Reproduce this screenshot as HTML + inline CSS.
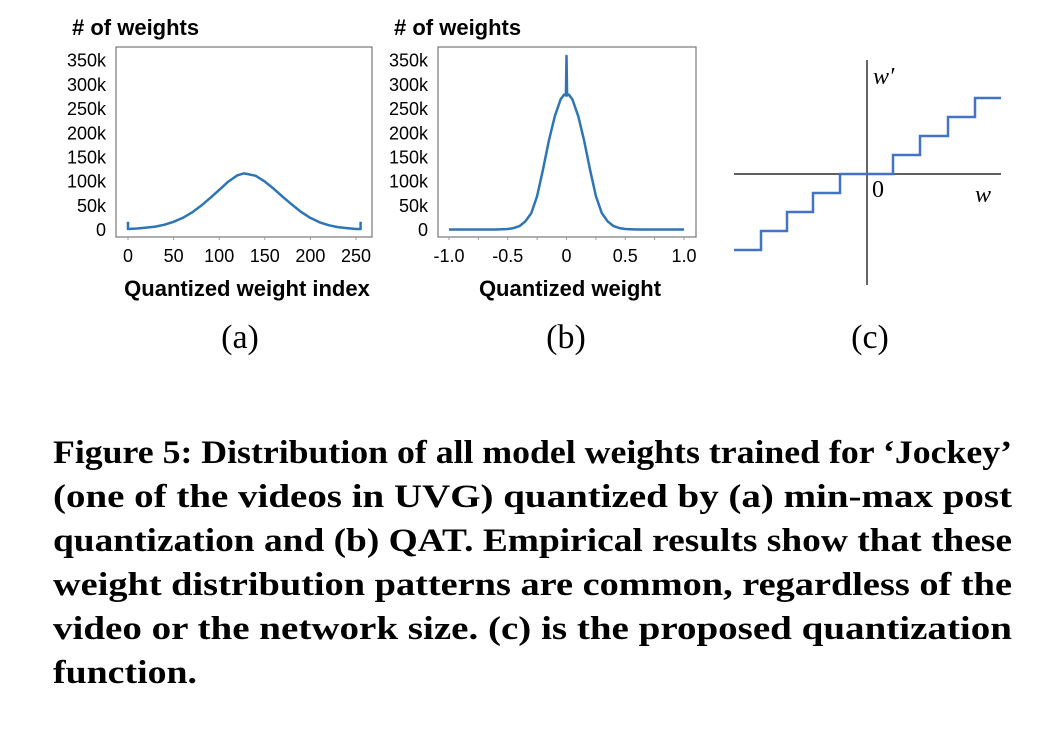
<!DOCTYPE html>
<html><head><meta charset="utf-8"><style>
html,body{margin:0;padding:0;background:#fff;}
svg{display:block;}
.tk{font-family:"Liberation Sans",Arial,sans-serif;font-size:18px;fill:#000;}
.ttl{font-family:"Liberation Sans",Arial,sans-serif;font-size:22px;font-weight:bold;fill:#000;}
.cap{font-family:"Liberation Serif","DejaVu Serif",serif;font-size:33px;font-weight:bold;fill:#000;}
.sub{font-family:"Liberation Serif","DejaVu Serif",serif;font-size:34px;fill:#000;}
</style></head><body>
<svg id="fig" width="1063" height="748" viewBox="0 0 1063 748" xmlns="http://www.w3.org/2000/svg">
<g id="chartA"></g>
<g id="chartB"></g>
<g id="chartC"></g>
<text class="sub" x="240" y="348" text-anchor="middle">(a)</text>
<text class="sub" x="566" y="348" text-anchor="middle">(b)</text>
<text class="sub" x="870" y="348" text-anchor="middle">(c)</text>
<g>
<text class="cap" x="53" y="463" textLength="959" lengthAdjust="spacingAndGlyphs">Figure 5: Distribution of all model weights trained for ‘Jockey’</text>
<text class="cap" x="53" y="507" textLength="959" lengthAdjust="spacingAndGlyphs">(one of the videos in UVG) quantized by (a) min-max post</text>
<text class="cap" x="53" y="551" textLength="959" lengthAdjust="spacingAndGlyphs">quantization and (b) QAT. Empirical results show that these</text>
<text class="cap" x="53" y="595" textLength="959" lengthAdjust="spacingAndGlyphs">weight distribution patterns are common, regardless of the</text>
<text class="cap" x="53" y="639" textLength="959" lengthAdjust="spacingAndGlyphs">video or the network size. (c) is the proposed quantization</text>
<text class="cap" x="53" y="683" textLength="144" lengthAdjust="spacingAndGlyphs">function.</text>
</g>
</svg>
<script>
const yTicks=[0,50,100,150,200,250,300,350];
const yTickLabels=["0","50k","100k","150k","200k","250k","300k","350k"];
const aX=[0,0,10,20,30,40,50,60,70,80,90,100,110,120,127,130,140,150,160,170,180,190,200,210,220,230,240,250,255,255];
const aY=[17,2,3,5,7,11,17,25,36,50,66,83,100,113,117,116,112,100,85,68,52,37,25,16,10,6,4,2,2,17];
const aXTicks=[0,50,100,150,200,250];
const bX=[-1,-0.6,-0.5,-0.45,-0.4,-0.35,-0.3,-0.25,-0.2,-0.15,-0.1,-0.05,-0.02,-0.005,0,0.005,0.02,0.05,0.1,0.15,0.2,0.25,0.3,0.35,0.4,0.45,0.5,0.6,1];
const bY=[1,1,2,4,8,18,35,70,125,185,235,270,280,278,360,278,280,270,235,185,125,70,35,18,8,4,2,1,1];
const bXTicks=[-1,-0.5,0,0.5,1];
const bXTickLabels=["-1.0","-0.5","0","0.5","1.0"];
const stepX=[734,761,787,813,840,893,920,948,975,1001];
const stepLvl=[-4,-3,-2,-1,0,1,2,3,4];
const NS="http://www.w3.org/2000/svg";
function mk(p,t,a){const e=document.createElementNS(NS,t);for(const k in a)e.setAttribute(k,a[k]);p.appendChild(e);return e;}
function chart(g,box,xmin,xmax,x0px,x1px,xs,ys,xt,xtl,minor,xtitle){
  const yS=v=>230-v*(230-60.7)/350;
  const xS=v=>x0px+(v-xmin)*(x1px-x0px)/(xmax-xmin);
  const r=mk(g,'rect',{x:box[0],y:47,width:box[1]-box[0],height:190,fill:'none',stroke:'#777','stroke-width':1.2});
  
  
  minor.forEach(v=>{const l=mk(g,'line',{x1:xS(v),x2:xS(v),y1:237,y2:240,stroke:'#999'});
    
    });
  yTicks.forEach((v,i)=>{const t=mk(g,'text',{x:box[0]-10,y:yS(v)+6,'text-anchor':'end',class:'tk'});t.textContent=yTickLabels[i];
    
    });
  xt.forEach((v,i)=>{const t=mk(g,'text',{x:xS(v),y:262,'text-anchor':'middle',class:'tk'});t.textContent=xtl[i];
    
    });
  const tt=mk(g,'text',{x:box[0]-44,y:35,class:'ttl'});tt.textContent='# of weights';
  
  
  const xt2=mk(g,'text',{x:(box[0]+box[1])/2+3,y:296,'text-anchor':'middle',class:'ttl'});xt2.textContent=xtitle;
  
  
  const pts=xs.map((v,i)=>xS(v).toFixed(1)+','+yS(ys[i]).toFixed(1)).join(' ');
  const pl=mk(g,'polyline',{points:pts,fill:'none',stroke:'#2e75b6','stroke-width':2.5,'stroke-linejoin':'round'});
  
  
}
chart(document.getElementById('chartA'),[116,372],0,250,128,356,aX,aY,aXTicks,aXTicks.map(String),[0,50,100,150,200,250],'Quantized weight index');
chart(document.getElementById('chartB'),[438,696],-1,1,449,684,bX,bY,bXTicks,bXTickLabels,[-1,-0.75,-0.5,-0.25,0,0.25,0.5,0.75,1],'Quantized weight');
const gc=document.getElementById('chartC');
const ax1=mk(gc,'line',{x1:734,x2:1001,y1:174,y2:174,stroke:'#000','stroke-width':1.2});


const ax2=mk(gc,'line',{x1:867,x2:867,y1:60,y2:285,stroke:'#000','stroke-width':1.2});


const lvY=l=>174-l*19;
let d='';
stepLvl.forEach((l,i)=>{d+=(i===0?'M':'L')+stepX[i]+','+lvY(l)+' L'+stepX[i+1]+','+lvY(l)+' ';});
const sp=mk(gc,'path',{d:d,fill:'none',stroke:'#4472c4','stroke-width':2.5});


const lab=(x,y,s,n,it)=>{const t=mk(gc,'text',{x:x,y:y,'font-family':'"Liberation Serif",serif','font-size':'24px','font-style':it?'italic':'normal'});t.textContent=s;
  
  };
lab(873,84,"w′",'w-prime-label',true);
lab(872,197,"0",'origin-label',false);
lab(975,202,"w",'w-label',true);
</script>
</body></html>
